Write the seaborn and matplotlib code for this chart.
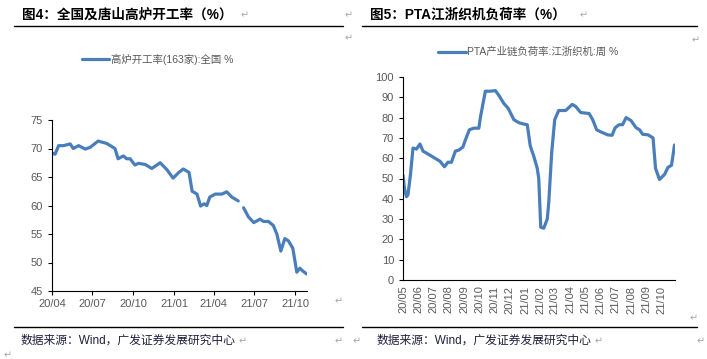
import pandas as pd
import numpy as np
import matplotlib
matplotlib.use("Agg")
import matplotlib.pyplot as plt
import matplotlib.dates as mdates
import seaborn as sns

# ---- data ----
bf_dates = ['2020-04-01', '2020-04-08', '2020-04-16', '2020-04-27', '2020-05-12', '2020-05-19',
            '2020-05-31', '2020-06-15', '2020-06-26', '2020-07-14', '2020-08-02', '2020-08-21',
            '2020-08-28', '2020-09-09', '2020-09-16', '2020-09-24', '2020-10-05', '2020-10-13',
            '2020-10-28', '2020-11-12', '2020-12-01', '2020-12-16', '2020-12-30', '2021-01-12',
            '2021-01-22', '2021-02-04', '2021-02-11', '2021-02-22', '2021-03-02', '2021-03-10',
            '2021-03-16', '2021-03-23', '2021-04-04', '2021-04-19', '2021-04-30', '2021-05-11',
            '2021-05-26', '2021-06-07', '2021-06-18', '2021-06-30', '2021-07-14', '2021-07-22',
            '2021-08-02', '2021-08-13', '2021-08-21', '2021-08-30', '2021-09-08', '2021-09-16',
            '2021-09-26', '2021-10-05', '2021-10-12', '2021-10-17', '2021-10-27']
bf_rate = [69.2, 69.0, 70.5, 70.5, 70.8, 70.0,
           70.5, 69.9, 70.2, 71.3, 70.9, 70.0,
           68.2, 68.7, 68.2, 68.2, 67.1, 67.4,
           67.2, 66.5, 67.5, 66.3, 64.8, 65.8,
           66.4, 65.8, 62.5, 62.0, 59.9, 60.3,
           60.0, 61.5, 62.0, 62.0, 62.4, 61.5,
           60.8, 59.6, 58.0, 57.0, 57.6, 57.2,
           57.2, 56.5, 55.0, 52.0, 54.2, 53.8,
           52.5, 48.3, 49.0, 48.6, 48.0]
# gap in the series between late May and early June 2021
bf_segment = [0] * 37 + [1] * 16

pta_dates = ['2020-05-01', '2020-05-04', '2020-05-08', '2020-05-11', '2020-05-16', '2020-05-21',
             '2020-05-28', '2020-06-04', '2020-06-10', '2020-06-24', '2020-07-04', '2020-07-14',
             '2020-07-23', '2020-07-30', '2020-08-06', '2020-08-14', '2020-08-21', '2020-08-29',
             '2020-09-03', '2020-09-11', '2020-09-20', '2020-09-30', '2020-10-03', '2020-10-13',
             '2020-10-23', '2020-11-02', '2020-11-09', '2020-11-19', '2020-11-28', '2020-12-09',
             '2020-12-19', '2020-12-29', '2021-01-05', '2021-01-11', '2021-01-18', '2021-01-25',
             '2021-01-28', '2021-02-01', '2021-02-07', '2021-02-14', '2021-02-17', '2021-02-23',
             '2021-03-01', '2021-03-09', '2021-03-23', '2021-04-05', '2021-04-12', '2021-04-22',
             '2021-05-09', '2021-05-16', '2021-05-24', '2021-06-01', '2021-06-15', '2021-06-24',
             '2021-06-30', '2021-07-08', '2021-07-15', '2021-07-22', '2021-08-01', '2021-08-11',
             '2021-08-18', '2021-08-24', '2021-09-04', '2021-09-14', '2021-09-19', '2021-09-27',
             '2021-10-07', '2021-10-14', '2021-10-21', '2021-10-27']
pta_load = [51.6, 45.0, 41.0, 42.0, 52.0, 65.0,
            64.5, 67.0, 63.5, 61.5, 60.0, 58.5,
            55.8, 58.0, 58.0, 63.5, 64.0, 65.5,
            69.0, 74.0, 74.8, 74.8, 80.0, 93.0,
            93.0, 93.3, 91.0, 87.0, 84.5, 79.0,
            77.5, 76.8, 76.5, 66.0, 61.0, 55.0,
            50.0, 26.0, 25.5, 30.0, 38.0, 63.0,
            79.0, 83.5, 83.5, 86.5, 85.5, 82.5,
            82.0, 79.0, 74.0, 73.0, 71.5, 71.3,
            75.0, 76.5, 76.5, 80.0, 78.5, 75.0,
            74.0, 71.8, 71.5, 70.0, 55.0, 49.5,
            52.0, 55.5, 56.5, 66.5]

left_ticks = ['2020-04-01', '2020-07-01', '2020-10-01', '2021-01-01', '2021-04-01', '2021-07-01', '2021-10-01']
right_ticks = pd.date_range('2020-05-01', '2021-10-01', freq='MS')

df_bf = pd.DataFrame({'date': pd.to_datetime(bf_dates), 'rate': bf_rate, 'seg': bf_segment})
df_pta = pd.DataFrame({'date': pd.to_datetime(pta_dates), 'load': pta_load})

sns.set_style('ticks')
plt.rcParams['font.family'] = ['Liberation Sans', 'Noto Sans CJK SC', 'DejaVu Sans']

LINE = '#4a7ebb'
TICK = '#595959'
MARK = '#a6a6a6'
W, H = 707, 359

fig = plt.figure(figsize=(W / 100, H / 100), dpi=100)


def box(l, t, r, b):
    return [l / W, 1 - b / H, (r - l) / W, (b - t) / H]


def px(x, y, s, **kw):
    fig.text(x / W, 1 - y / H, s, **kw)


line_kw = dict(color=LINE, linewidth=2.3, solid_joinstyle='round', solid_capstyle='round')

# ---- left chart ----
ax1 = fig.add_axes(box(52, 120, 307, 291))
sns.lineplot(data=df_bf, x='date', y='rate', units='seg', estimator=None, ax=ax1, **line_kw)
ax1.set_xlim(pd.Timestamp('2020-04-01'), pd.Timestamp('2021-10-28'))
ax1.set_ylim(45, 75)
ax1.set_yticks(np.arange(45, 76, 5))
ax1.set_xticks(pd.to_datetime(left_ticks))
ax1.xaxis.set_major_formatter(mdates.DateFormatter('%y/%m'))
ax1.set_xlabel('')
ax1.set_ylabel('')

# ---- right chart ----
ax2 = fig.add_axes(box(403, 77, 675, 280))
sns.lineplot(data=df_pta, x='date', y='load', ax=ax2, **line_kw)
ax2.set_xlim(pd.Timestamp('2020-05-01'), pd.Timestamp('2021-10-28'))
ax2.set_ylim(0, 100)
ax2.set_yticks(np.arange(0, 101, 10))
ax2.set_xticks(right_ticks)
ax2.xaxis.set_major_formatter(mdates.DateFormatter('%y/%m'))
ax2.tick_params(axis='x', rotation=90, length=0, pad=4)
ax2.set_xlabel('')
ax2.set_ylabel('')

for ax in (ax1, ax2):
    sns.despine(ax=ax)
    for sp in ('left', 'bottom'):
        ax.spines[sp].set_color('black')
        ax.spines[sp].set_linewidth(0.8)
    ax.tick_params(labelsize=8, labelcolor=TICK, color='black', width=0.8)
    ax.tick_params(axis='y', length=3)
ax1.tick_params(axis='x', length=3, pad=3)

# ---- titles, legends, sources ----
title_kw = dict(fontsize=9.8, fontweight='bold', color='black', va='center')
px(22, 15, '图4：全国及唐山高炉开工率（%）', **title_kw)
px(370, 15, '图5：PTA江浙织机负荷率（%）', **title_kw)

for x0, x1 in ((14, 343), (362, 697)):
    fig.add_artist(plt.Line2D([x0 / W, x1 / W], [1 - 26 / H] * 2, color='black', lw=1))
    fig.add_artist(plt.Line2D([x0 / W, x1 / W], [1 - 327 / H] * 2, color='black', lw=1))

fig.add_artist(plt.Line2D([82 / W, 109 / W], [1 - 59 / H] * 2, color=LINE, lw=2.3))
px(111, 59, '高炉开工率(163家):全国 %', fontsize=7.5, color=TICK, va='center')
fig.add_artist(plt.Line2D([438 / W, 466 / W], [1 - 52 / H] * 2, color=LINE, lw=2.3))
px(467, 52, 'PTA产业链负荷率:江浙织机:周 %', fontsize=7.5, color=TICK, va='center')

src_kw = dict(fontsize=8.5, color='#1f1f3f', va='center')
px(21, 341, '数据来源：Wind，广发证券发展研究中心', **src_kw)
px(377, 341, '数据来源：Wind，广发证券发展研究中心', **src_kw)

# paragraph marks
mark_kw = dict(fontsize=7, color=MARK, va='center', family=['DejaVu Sans'])
for x, y in ((241, 15), (345, 15), (345, 38), (335, 301), (239, 341), (335, 341),
             (580, 15), (692, 40), (690, 318), (353, 341), (595, 341), (697, 341), (4, 355)):
    px(x, y, '\u21b5', **mark_kw)

fig.savefig('out.png', dpi=100)
